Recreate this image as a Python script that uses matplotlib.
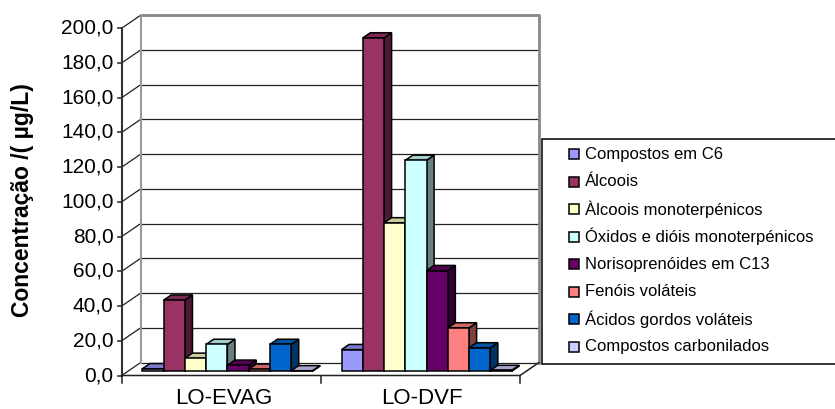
import matplotlib.pyplot as plt
from matplotlib.patches import Polygon, Rectangle
import numpy as np

plt.rcParams['font.family'] = ['Liberation Sans', 'DejaVu Sans']

grupos = ['LO-EVAG', 'LO-DVF']
familias = ['Compostos em C6', 'Álcoois', 'Àlcoois monoterpénicos',
            'Óxidos e dióis monoterpénicos', 'Norisoprenóides em C13',
            'Fenóis voláteis', 'Ácidos gordos voláteis', 'Compostos carbonilados']
evag = [1.5, 41.0, 7.5, 15.5, 3.5, 1.2, 15.5, 0.3]
dvf = [12.5, 192.0, 85.5, 121.5, 58.0, 25.0, 13.5, 0.5]
cores = ['#9999FF', '#993366', '#FFFFCC', '#CCFFFF', '#660066', '#FF8080', '#0066CC', '#CCCCFF']
yticks = np.arange(0, 201, 20)

# pixel geometry of the front plane (x: category units, y: concentration)
W, H = 835, 409
X0, SX = 121.7, 199.15
Y0, SY = 375.5, 1.7365
DX, DY = 19 / SX, 13 / SY   # depth of the box


def pt(px, py):
    return (px - X0) / SX, (Y0 - py) / SY


def shade(c, f):
    r, g, b = plt.matplotlib.colors.to_rgb(c)
    return (r * f, g * f, b * f)


fig = plt.figure(figsize=(W / 100, H / 100), dpi=100)
ax = fig.add_axes([0, 0, 1, 1])
ax.set_xlim(-X0 / SX, (W - X0) / SX)
ax.set_ylim(-(H - Y0) / SY, Y0 / SY)
ax.axis('off')

# back wall gridlines and side wall diagonals
for v in yticks:
    ax.plot([DX, 2 + DX], [v + DY, v + DY], color='#202020', lw=0.9, zorder=1)
    ax.plot([0, DX], [v, v + DY], color='#202020', lw=0.9, zorder=1)
    ax.plot([-4 / SX, 0], [v, v], color='#333333', lw=1.2, zorder=3)
    ax.text(-8 / SX, v, f'{v:.1f}'.replace('.', ','), ha='right', va='center',
            fontsize=15)
ax.plot([DX, 2 + DX, 2 + DX], [200 + DY, 200 + DY, DY], color='#888888', lw=2, zorder=1)
ax.plot([DX, DX], [DY, 200 + DY], color='#999999', lw=1.5, zorder=1)
ax.plot([0, 0], [0, 200], color='#333333', lw=1.5, zorder=3)

# floor
ax.plot([0, 2, 2 + DX], [0, 0, DY], color='#202020', lw=1.1, zorder=3)
for c in [0, 1, 2]:
    ax.plot([c, c], [0, -7 / SY], color='#202020', lw=1.1, zorder=3)

# 3d columns
bw = 21.25 / SX
gap = (1 - bw * len(familias)) / 2
d0, d1 = 0.32, 0.72
for g, vals in enumerate([evag, dvf]):
    for i, (v, cor) in enumerate(zip(vals, cores)):
        x = g + gap + i * bw + d0 * DX
        y = d0 * DY
        ddx, ddy = (d1 - d0) * DX, (d1 - d0) * DY
        kw = dict(ec='black', lw=1.1, zorder=5, joinstyle='miter')
        ax.add_patch(Polygon([(x + bw, y), (x + bw + ddx, y + ddy),
                              (x + bw + ddx, y + v + ddy), (x + bw, y + v)],
                             fc=shade(cor, 0.5), **kw))
        ax.add_patch(Polygon([(x, y + v), (x + bw, y + v),
                              (x + bw + ddx, y + v + ddy), (x + ddx, y + v + ddy)],
                             fc=shade(cor, 0.8), **kw))
        ax.add_patch(Rectangle((x, y), bw, v, fc=cor, **kw))

for g, nome in enumerate(grupos):
    ax.text(g + 0.5 + 2 / SX, -23 / SY, nome, ha='center', va='center', fontsize=16)

ax.text(*pt(23, 200), 'Concentração /( µg/L)', rotation=90, ha='center', va='center',
        fontsize=16.5, fontweight='bold')

# legend
lx0, ly0 = pt(542.3, 364.3)
lx1, ly1 = pt(850, 139.3)
ax.add_patch(Rectangle((lx0, ly0), lx1 - lx0, ly1 - ly0, fc='white', ec='black',
                       lw=1.1, zorder=2))
for i, (nome, cor) in enumerate(zip(familias, cores)):
    yc = 154 + 27.5 * i
    sx, sy = pt(569, yc + 5)
    ax.add_patch(Rectangle((sx, sy), 10 / SX, 10 / SY, fc=cor, ec='black', lw=1.1, zorder=4))
    ax.text(*pt(585, yc), nome, ha='left', va='center', fontsize=12)

fig.savefig('out.png', dpi=100)
